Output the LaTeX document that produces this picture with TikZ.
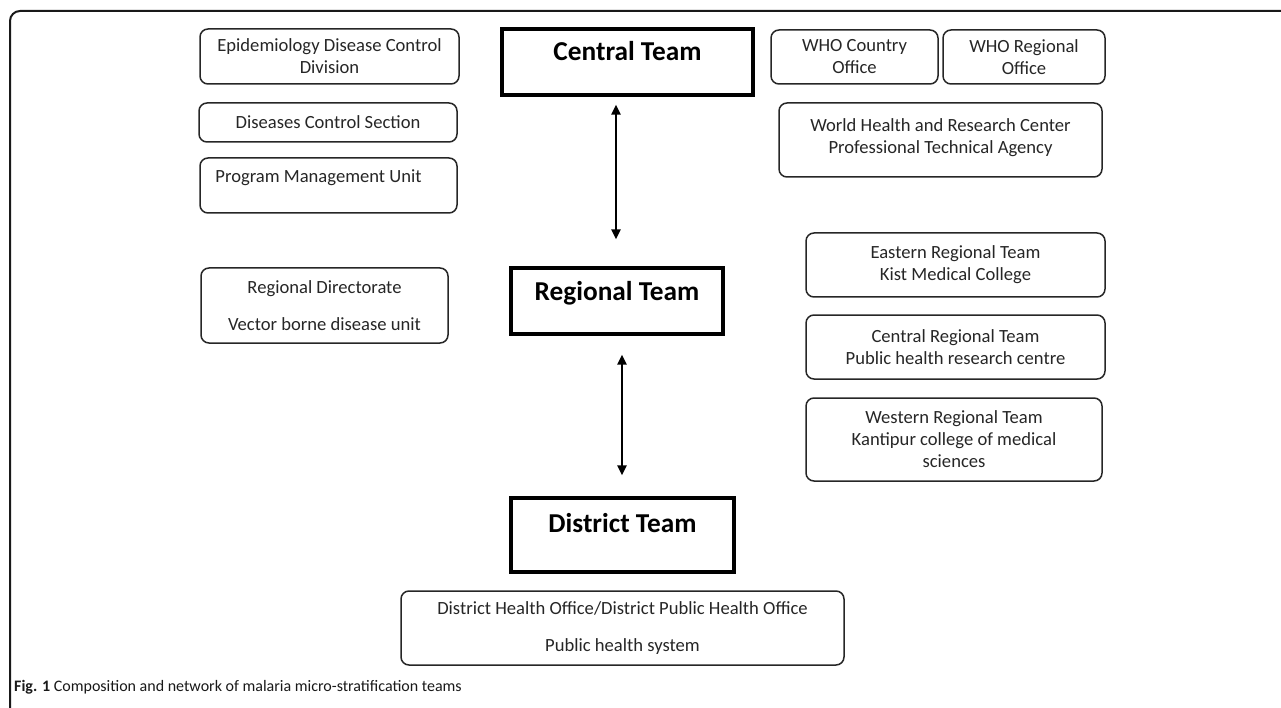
\documentclass[tikz,border=0pt]{standalone}
\usepackage{fontspec}
\setmainfont{Carlito}
\usetikzlibrary{arrows.meta,calc}
\tikzset{
  rbox/.style={draw=black!85, line width=1.5pt, rounded corners=8pt, align=center,
    font=\fontsize{18.6}{22}\selectfont, text=black!85, inner sep=0pt},
  team/.style={draw=black, line width=3.2pt, inner sep=0pt},
  teamlabel/.style={anchor=base, yshift=-33pt, inner sep=0pt, text=black,
    font=\bfseries\fontsize{27.3}{30}\selectfont},
  biarrow/.style={line width=2.6pt, {Triangle[length=10pt,width=9pt]}-{Triangle[length=10pt,width=9pt]}},
  frame/.style={line width=2pt, black!90, rounded corners=10pt}
}
\begin{document}
\begin{tikzpicture}[x=1pt,y=-1pt]
\useasboundingbox (0,0) rectangle (1281,708);
\coordinate (fa) at (1281,11);
\coordinate (fb) at (10,11);
\coordinate (fc) at (10,708);
\draw[frame] (fa) -- (fb) -- (fc);

% left column
\node[rbox, minimum width=259pt, minimum height=55pt] (epi) at (329.5,56.5) {Epidemiology Disease Control\\Division};
\node[rbox, minimum width=258pt, minimum height=39pt] (dcs) at (328,122.5) {Diseases Control Section};
\node[rbox, minimum width=257pt, minimum height=55pt,
  label={[anchor=base west, xshift=16pt, yshift=-25pt, inner sep=0pt, text=black!85, font=\fontsize{18.6}{22}\selectfont]north west:Program Management Unit}] (pmu) at (328.5,185.5) {};
\node[rbox, minimum width=247pt, minimum height=75pt] (rdir) at (324.5,305.5) {Regional Directorate\\[15pt]Vector borne disease unit};

% team boxes
\node[team, minimum width=251pt, minimum height=66pt, label={[teamlabel]north:Central Team}] (central) at (627.5,62) {};
\node[team, minimum width=212pt, minimum height=66pt, label={[teamlabel, yshift=-1pt]north:Regional Team}] (regional) at (617,301) {};
\node[team, minimum width=223pt, minimum height=74pt, label={[teamlabel, yshift=-3pt]north:District Team}] (district) at (622.5,535) {};

\draw[biarrow] ($(central.south)+(-11.5,8)$) -- ($(regional.north)+(-1,-27)$);
\draw[biarrow] ($(regional.south)+(5,19)$) -- ($(district.north)+(-0.5,-21)$);

% right column
\node[rbox, minimum width=167pt, minimum height=54pt] (whoc) at (854.5,57) {WHO Country\\Office};
\node[rbox, minimum width=162pt, minimum height=54pt] (whor) at (1024,57) {WHO Regional\\Office};
\node[rbox, minimum width=323pt, minimum height=74pt] (whrc) at (940.5,140) {World Health and Research Center\\Professional Technical Agency\\[-14pt]\mbox{}};
\node[rbox, minimum width=299pt, minimum height=64pt] (east) at (955.5,265) {Eastern Regional Team\\Kist Medical College};
\node[rbox, minimum width=299pt, minimum height=64pt] (cent) at (955.5,347) {Central Regional Team\\Public health research centre};
\node[rbox, minimum width=296pt, minimum height=83pt] (west) at (954,439.5) {Western Regional Team\\Kantipur college of medical\\sciences};

% bottom
\node[rbox, minimum width=443pt, minimum height=74pt] (dho) at (622.5,628) {District Health Office/District Public Health Office\\[15pt]Public health system};

\node[anchor=base west, inner sep=0pt, text=black!90, font=\fontsize{16}{20}\selectfont] (cap) at (14,691) {\textbf{Fig. 1} Composition and network of malaria micro-stratification teams};
\end{tikzpicture}
\end{document}
